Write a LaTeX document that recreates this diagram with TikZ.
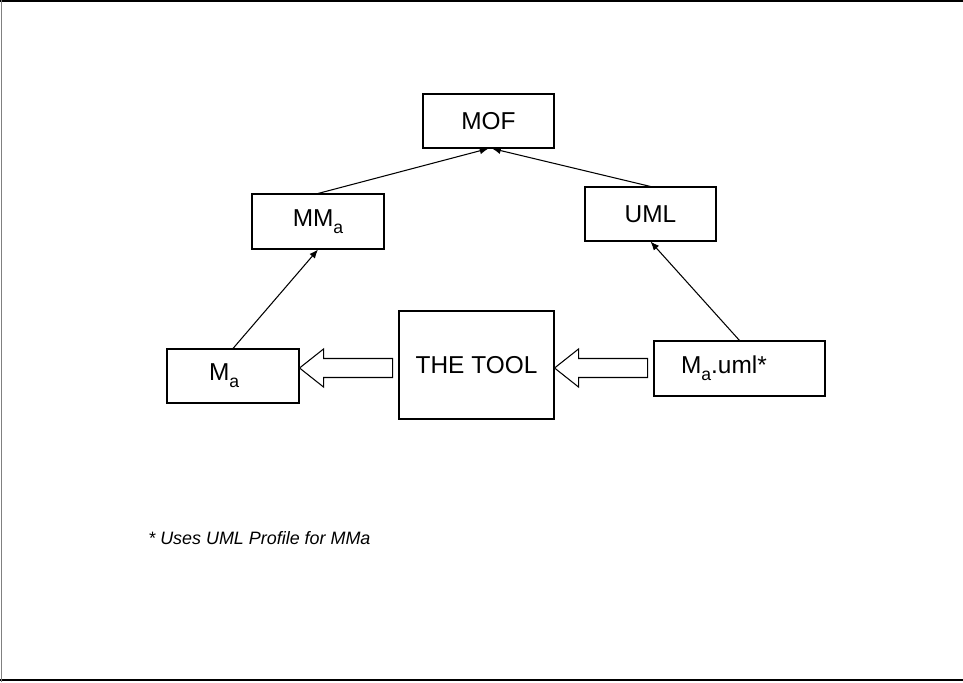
\documentclass[tikz,border=0pt]{standalone}
\usepackage{fontspec}
\setmainfont{Liberation Sans}
\usetikzlibrary{arrows.meta}
\definecolor{marcogris}{RGB}{128,128,128}
\newcommand{\subtxt}[1]{\raisebox{-0.3em}{\fontsize{10}{10}\selectfont #1}}

\begin{document}
\begin{tikzpicture}[
    caja/.style={draw, line width=0.6pt, inner sep=0pt,
                 font=\fontsize{13.9}{16}\selectfont},
    flecha/.style={line width=0.6pt, -{Latex[length=5pt,width=4pt]}},
    hueca/.style={draw, line width=0.6pt, fill=white},
    nota/.style={font=\fontsize{10.2}{12}\selectfont\itshape, anchor=west, inner sep=0pt}
]
    % Marco
    \useasboundingbox (0,0) rectangle (19.26,13.64);
    \draw[line width=0.8pt] (0,13.62) -- (19.26,13.62);
    \draw[line width=1pt] (0,0.04) -- (19.26,0.04);
    \draw[marcogris, line width=0.5pt] (0.02,0) -- (0.02,13.64);

    % Cajas
    \node[caja, minimum width=2.62cm, minimum height=1.08cm] (mof) at (9.77,11.22) {MOF};
    \node[caja, minimum width=2.64cm, minimum height=1.10cm] (mma) at (6.36,9.21) {MM\subtxt{a}};
    \node[caja, minimum width=2.62cm, minimum height=1.08cm] (uml) at (13.01,9.36) {UML};
    \node[caja, minimum height=1.08cm, text width=0.96cm, inner xsep=0.84cm, align=left] (ma) at (4.66,6.12) {M\subtxt{a}};
    \node[caja, minimum width=3.10cm, minimum height=2.16cm] (tool) at (9.53,6.34) {THE TOOL};
    \node[caja, minimum height=1.10cm, text width=2.34cm, inner xsep=0.54cm, align=left] (mauml) at (14.79,6.27) {M\subtxt{a}.uml*};

    % Relaciones
    \draw[flecha] (mma.north) -- (mof.south);
    \draw[flecha] (uml.north) -- ([xshift=0.07cm]mof.south);
    \draw[flecha] (ma.north) -- (mma.south);
    \draw[flecha] (mauml.north) -- (uml.south);

    % Flechas huecas
    \coordinate (puntaA) at (ma.east |- 0,6.28);
    \coordinate (puntaB) at (tool.east |- 0,6.28);
    \foreach \p in {puntaA, puntaB} {
        \draw[hueca] (\p) -- ++(0.48,0.38) -- ++(0,-0.19) -- ++(1.38,0)
            -- ++(0,-0.38) -- ++(-1.38,0) -- ++(0,-0.19) -- cycle;
    }

    % Nota
    \node[nota] (nota) at (2.96,2.88) {* Uses UML Profile for MMa};
\end{tikzpicture}
\end{document}
